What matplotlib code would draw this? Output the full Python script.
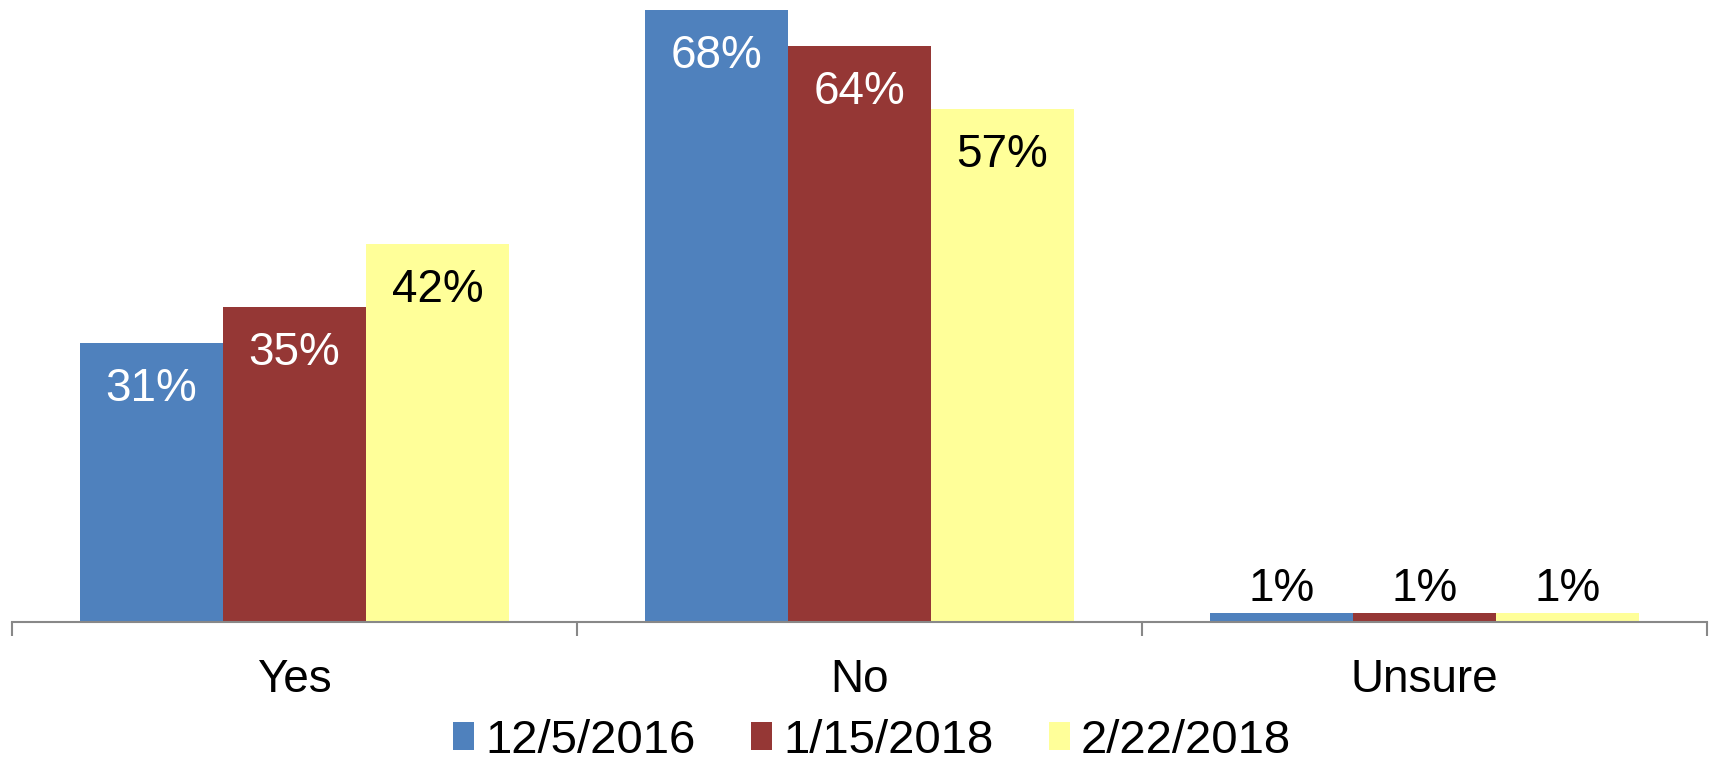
import matplotlib
matplotlib.use("Agg")
import matplotlib.pyplot as plt
import numpy as np
from matplotlib.patches import Patch

categories = ["Yes", "No", "Unsure"]
series_names = ["12/5/2016", "1/15/2018", "2/22/2018"]
values_2016 = [31, 68, 1]
values_jan2018 = [35, 64, 1]
values_feb2018 = [42, 57, 1]
series_values = [values_2016, values_jan2018, values_feb2018]
colors = ["#4F81BD", "#953735", "#FFFF99"]
label_colors = ["white", "white", "black"]

plt.rcParams['font.family'] = ['Liberation Sans', 'DejaVu Sans']

W, H, DPI = 1711, 763, 100
fig = plt.figure(figsize=(W / DPI, H / DPI), dpi=DPI)
ax = fig.add_axes([12 / W, 1 - 622 / H, (1707 - 12) / W, 622 / H])

x = np.arange(len(categories))
bw = 0.253
fs = 33
for i, (name, vals) in enumerate(zip(series_names, series_values)):
    pos = x + (i - 1) * bw
    bars = ax.bar(pos, vals, width=bw, color=colors[i], label=name, zorder=2)
    for rect, v in zip(bars, vals):
        cx = rect.get_x() + rect.get_width() / 2
        if v >= 5:
            ax.annotate(f"{v}%", (cx, v), xytext=(0, -42), textcoords="offset points",
                        ha="center", va="baseline", fontsize=fs, color=label_colors[i])
        else:
            ax.annotate(f"{v}%", (cx, v), xytext=(0, 8.5), textcoords="offset points",
                        ha="center", va="baseline", fontsize=fs, color="black")

ax.set_xlim(-0.5, len(categories) - 0.5)
ax.set_ylim(0, 622 / 9)
ax.set_yticks([])
for s in ["top", "right", "left"]:
    ax.spines[s].set_visible(False)
ax.spines["bottom"].set_color("#888888")
ax.spines["bottom"].set_linewidth(1.5)
ax.set_xticks(x)
ax.set_xticklabels(categories, fontsize=fs)
ax.tick_params(axis="x", which="major", length=0, pad=26)
ax.set_xticks(np.arange(len(categories) + 1) - 0.5, minor=True)
ax.tick_params(axis="x", which="minor", length=10, width=1.5, color="#888888", direction="out")

handles = [Patch(facecolor=c, edgecolor="none") for c in colors]
fig.legend(handles, series_names, loc="center", bbox_to_anchor=(872 / W, 22 / H),
           ncol=3, frameon=False, fontsize=34, handlelength=0.45, handleheight=0.53,
           handletextpad=0.23, columnspacing=1.17, borderpad=0, borderaxespad=0)

fig.savefig("out.png", dpi=DPI)
